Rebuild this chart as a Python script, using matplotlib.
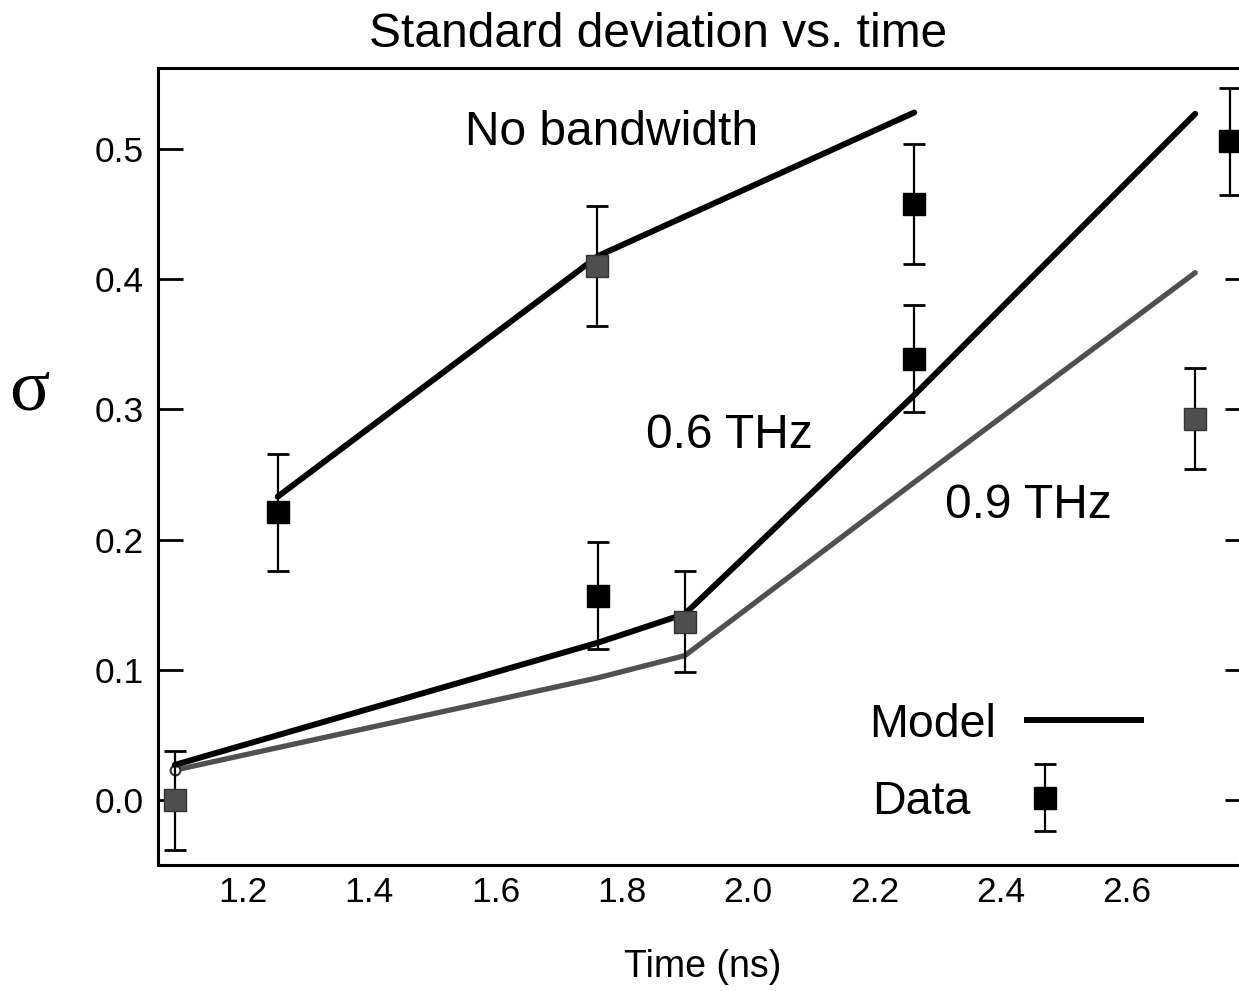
import numpy as np
import matplotlib
matplotlib.use("Agg")
from matplotlib import pyplot as plt
from matplotlib.lines import Line2D
from matplotlib.legend_handler import HandlerErrorbar

# measured points (sigma vs time)
t_black = [1.255, 1.763, 2.263, 2.263, 2.763]
s_black = [0.221, 0.157, 0.458, 0.339, 0.506]
e_black = [0.045, 0.041, 0.046, 0.041, 0.041]

t_gray = [1.092, 1.761, 1.900, 2.708]
s_gray = [0.000, 0.410, 0.137, 0.293]
e_gray = [0.038, 0.046, 0.039, 0.039]

# model curves
t_nobw = [1.255, 1.763, 2.263]
s_nobw = [0.233, 0.418, 0.528]

t_model = [1.092, 1.763, 1.900, 2.263, 2.708]
s_06 = [0.027, 0.121, 0.143, 0.311, 0.527]
s_09 = [0.023, 0.094, 0.111, 0.244, 0.405]

yticks = [0.0, 0.1, 0.2, 0.3, 0.4, 0.5]
xticks = [1.2, 1.4, 1.6, 1.8, 2.0, 2.2, 2.4, 2.6]

plt.rcParams['font.family'] = ['Liberation Sans', 'DejaVu Sans']

fig = plt.figure(figsize=(12.39, 9.91), dpi=100)
ax = fig.add_axes([0.1275, 0.1271, 0.8815, 0.8043])

ax.plot(t_nobw, s_nobw, color='black', lw=4.3, solid_capstyle='round', zorder=3)
ax.plot(t_model, s_06, color='black', lw=4.3, solid_capstyle='round', zorder=3)
ax.plot(t_model, s_09, color='#505050', lw=3.8, solid_capstyle='round', zorder=2,
        marker='o', markevery=[0], ms=7, mfc='white', mec='#333333', mew=1.5)

h_data = ax.errorbar(t_black, s_black, yerr=e_black, fmt='s', color='black', ms=16,
                     ecolor='black', elinewidth=1.6, capsize=8, capthick=2, zorder=4)
ax.errorbar(t_gray, s_gray, yerr=e_gray, fmt='s', color='#4f4f4f', mec='#333333',
            ms=16, ecolor='black', elinewidth=1.6, capsize=8, capthick=2, zorder=4)

ax.text(1.784, 0.513, 'No bandwidth', fontsize=34.5, ha='center', va='center')
ax.text(1.971, 0.280, '0.6 THz', fontsize=34.5, ha='center', va='center')
ax.text(2.443, 0.226, '0.9 THz', fontsize=34.5, ha='center', va='center')

# legend: two separate entries so the labels line up on the left
h_model = Line2D([], [], color='black', lw=4.3)
leg1 = ax.legend([h_model], ['Model'], loc='center left',
                 bbox_to_anchor=(0.6515, 0.176), frameon=False, markerfirst=False,
                 fontsize=33.5, handlelength=2.45, handletextpad=0.65,
                 borderpad=0, borderaxespad=0)
ax.add_artist(leg1)
ax.legend([h_data], ['Data'], loc='center left',
          bbox_to_anchor=(0.6537, 0.079), frameon=False, markerfirst=False,
          fontsize=33.5, handlelength=0.8, handletextpad=1.2,
          borderpad=0, borderaxespad=0,
          handler_map={type(h_data): HandlerErrorbar(yerr_size=0.72)})

ax.set_xlim(1.0654, 2.795)
ax.set_ylim(-0.0499, 0.5622)
ax.set_xticks(xticks)
ax.set_xticklabels(['%.1f' % v for v in xticks])
ax.set_yticks(yticks)
ax.set_yticklabels(['%.1f' % v for v in yticks])
ax.tick_params(axis='y', direction='in', length=18, width=2, labelsize=25.5,
               pad=10, right=True)
ax.tick_params(axis='x', length=0, labelsize=25.5, pad=8)
for sp in ax.spines.values():
    sp.set_linewidth(2.2)

fig.text(0.531, 0.965, 'Standard deviation vs. time', fontsize=34.5,
         ha='center', va='center')
fig.text(0.567, 0.024, 'Time (ns)', fontsize=27, ha='center', va='center')
fig.text(0.024, 0.605, 'σ', fontsize=54, ha='center', va='center',
         family=['Liberation Serif', 'DejaVu Serif'])

fig.savefig('out.png', dpi=100)
